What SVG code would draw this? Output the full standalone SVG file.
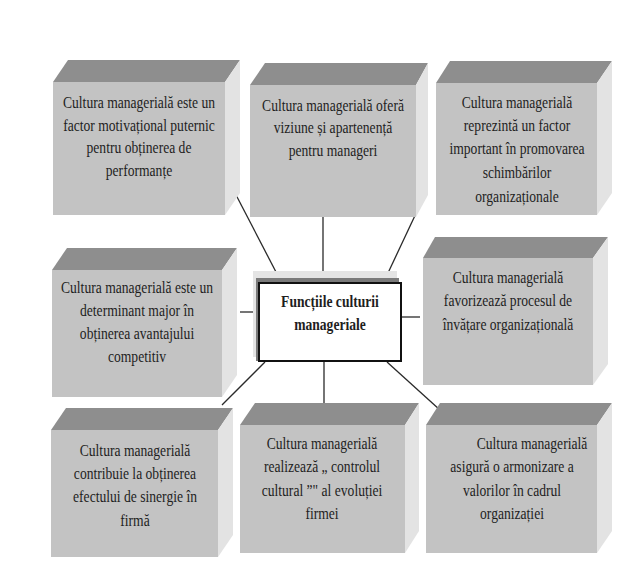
<svg xmlns="http://www.w3.org/2000/svg" width="627" height="568" viewBox="0 0 627 568">
<style>
.front{fill:#c3c3c3}
.top{fill:#8e8e8e}
.side{fill:#e3e3e3}
.t{font-family:"Liberation Serif","Times New Roman",serif;font-size:13.6px;fill:#1e1e1e;text-anchor:middle}
.b{font-weight:bold}
.c{stroke:#2a2a2a;stroke-width:1.3;fill:none}
</style>
<rect width="627" height="568" fill="#ffffff"/>
<g id="connectors">
<line class="c" x1="235" y1="193" x2="276" y2="272"/>
<line class="c" x1="323" y1="213" x2="323" y2="272"/>
<line class="c" x1="427" y1="190" x2="388" y2="273"/>
<line class="c" x1="240" y1="312" x2="258" y2="312"/>
<line class="c" x1="401" y1="317" x2="420" y2="317"/>
<line class="c" x1="265" y1="362" x2="222" y2="405"/>
<line class="c" x1="324" y1="361" x2="324" y2="406"/>
<line class="c" x1="387" y1="362" x2="440" y2="410"/>
</g>
<g id="node1">
<polygon class="top" points="53,82 68,60 240,60 225,82"/>
<polygon class="side" points="225,82 240,60 240,193 225,215"/>
<rect class="front" x="53" y="82" width="172" height="133"/>
<text class="t" transform="translate(139,108) scale(1,1.28)">Cultura managerială este un</text>
<text class="t" transform="translate(139,131) scale(1,1.28)">factor motivațional puternic</text>
<text class="t" transform="translate(139,153) scale(1,1.28)">pentru obținerea de</text>
<text class="t" transform="translate(139,176) scale(1,1.28)">performanțe</text>
</g>
<g id="node2">
<polygon class="top" points="250,85 265,63 428,63 416,85"/>
<polygon class="side" points="416,85 428,63 428,195 416,217"/>
<rect class="front" x="250" y="85" width="166" height="132"/>
<text class="t" transform="translate(333,111) scale(1,1.28)">Cultura managerială oferă</text>
<text class="t" transform="translate(333,133) scale(1,1.28)">viziune și apartenență</text>
<text class="t" transform="translate(333,156) scale(1,1.28)">pentru manageri</text>
</g>
<g id="node3">
<polygon class="top" points="436,83 450,61 612,61 597,83"/>
<polygon class="side" points="597,83 612,61 612,193 597,215"/>
<rect class="front" x="436" y="83" width="161" height="132"/>
<text class="t" transform="translate(517,108) scale(1,1.28)">Cultura managerială</text>
<text class="t" transform="translate(517,131) scale(1,1.28)">reprezintă un factor</text>
<text class="t" transform="translate(517,154) scale(1,1.28)">important în promovarea</text>
<text class="t" transform="translate(517,178) scale(1,1.28)">schimbărilor</text>
<text class="t" transform="translate(517,202) scale(1,1.28)">organizaționale</text>
</g>
<g id="node4">
<polygon class="top" points="52,270 67,248 237,248 222,270"/>
<polygon class="side" points="222,270 237,248 237,375 222,397"/>
<rect class="front" x="52" y="270" width="170" height="127"/>
<text class="t" transform="translate(137,293) scale(1,1.28)">Cultura managerială este un</text>
<text class="t" transform="translate(137,316) scale(1,1.28)">determinant major în</text>
<text class="t" transform="translate(137,339) scale(1,1.28)">obținerea avantajului</text>
<text class="t" transform="translate(137,362) scale(1,1.28)">competitiv</text>
</g>
<g id="center">
<rect x="253" y="271" width="144" height="86" fill="#e4e4e4"/>
<rect x="256" y="278" width="143" height="83" fill="#7a7a7a"/>
<rect x="259" y="283" width="142" height="78" fill="#ffffff" stroke="#111111" stroke-width="2"/>
<text class="t b" transform="translate(330,307) scale(1,1.28)">Funcțiile culturii</text>
<text class="t b" transform="translate(330,330) scale(1,1.28)">manageriale</text>
</g>
<g id="node5">
<polygon class="top" points="423,258 435,237 608,237 593,258"/>
<polygon class="side" points="593,258 608,237 608,364 593,385"/>
<rect class="front" x="423" y="258" width="170" height="127"/>
<text class="t" transform="translate(508,283) scale(1,1.28)">Cultura managerială</text>
<text class="t" transform="translate(508,306) scale(1,1.28)">favorizează procesul de</text>
<text class="t" transform="translate(508,330) scale(1,1.28)">învățare organizațională</text>
</g>
<g id="node7">
<polygon class="top" points="51,430 66,408 233,408 218,430"/>
<polygon class="side" points="218,430 233,408 233,535 218,557"/>
<rect class="front" x="51" y="430" width="167" height="127"/>
<text class="t" transform="translate(135,456) scale(1,1.28)">Cultura managerială</text>
<text class="t" transform="translate(135,479) scale(1,1.28)">contribuie la obținerea</text>
<text class="t" transform="translate(135,502) scale(1,1.28)">efectului de sinergie în</text>
<text class="t" transform="translate(135,526) scale(1,1.28)">firmă</text>
</g>
<g id="node8">
<polygon class="top" points="240,425 255,403 419,403 405,425"/>
<polygon class="side" points="405,425 419,403 419,531 405,553"/>
<rect class="front" x="240" y="425" width="165" height="128"/>
<text class="t" transform="translate(322,449) scale(1,1.28)">Cultura managerială</text>
<text class="t" transform="translate(322,472) scale(1,1.28)">realizează „ controlul</text>
<text class="t" transform="translate(322,496) scale(1,1.28)">cultural ”" al evoluției</text>
<text class="t" transform="translate(322,519) scale(1,1.28)">firmei</text>
</g>
<g id="node9">
<polygon class="top" points="426,425 440,403 612,403 597,425"/>
<polygon class="side" points="597,425 612,403 612,531 597,553"/>
<rect class="front" x="426" y="425" width="171" height="128"/>
<text class="t" transform="translate(532,449) scale(1,1.28)">Cultura managerială</text>
<text class="t" transform="translate(512,472) scale(1,1.28)">asigură o armonizare a</text>
<text class="t" transform="translate(512,496) scale(1,1.28)">valorilor în cadrul</text>
<text class="t" transform="translate(512,519) scale(1,1.28)">organizației</text>
</g>
</svg>
